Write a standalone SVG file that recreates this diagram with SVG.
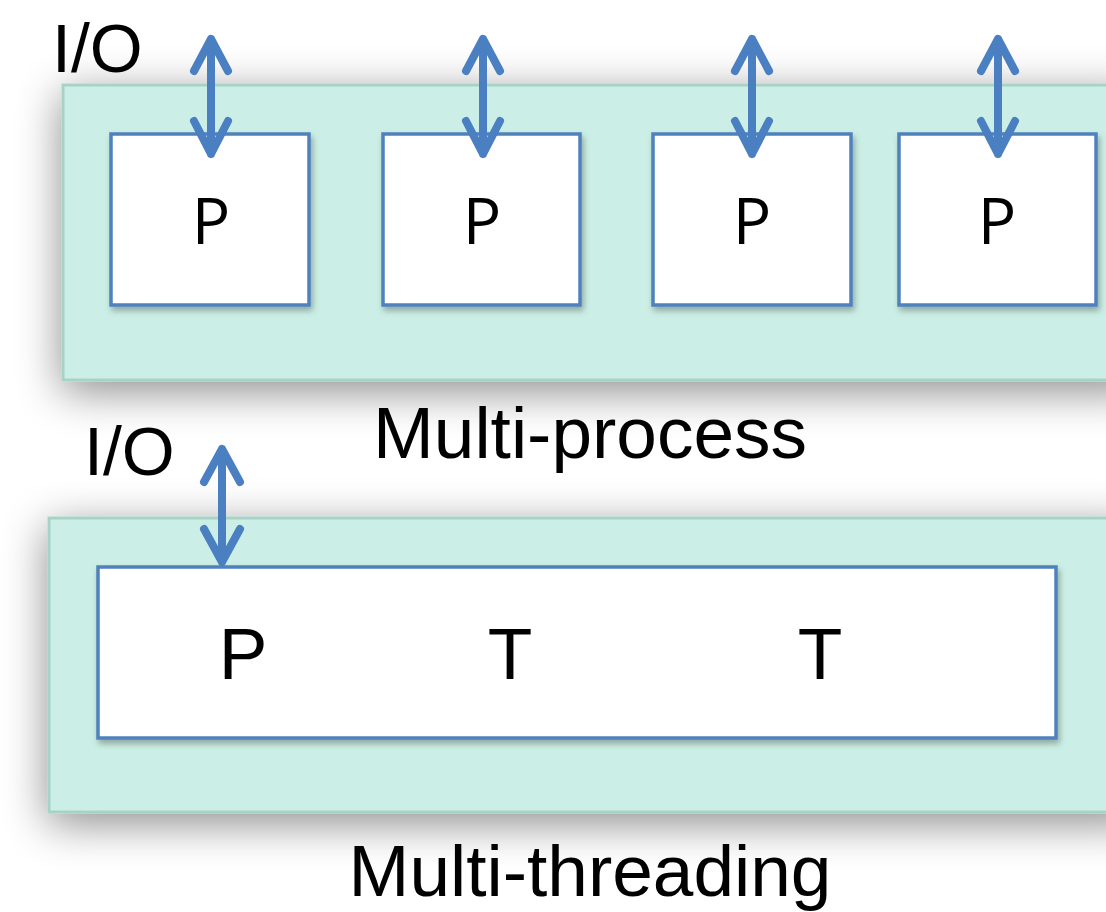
<svg xmlns="http://www.w3.org/2000/svg" width="1106" height="912" viewBox="0 0 1106 912">
  <defs>
    <filter id="panelShadow" x="-20%" y="-50%" width="140%" height="200%">
      <feGaussianBlur in="SourceAlpha" stdDeviation="22"/>
      <feOffset dx="0" dy="10" result="blur"/>
      <feFlood flood-color="#000" flood-opacity="0.45"/>
      <feComposite in2="blur" operator="in"/>
      <feMerge><feMergeNode/><feMergeNode in="SourceGraphic"/></feMerge>
    </filter>
    <filter id="boxShadow" x="-10%" y="-10%" width="130%" height="130%">
      <feGaussianBlur in="SourceAlpha" stdDeviation="3"/>
      <feOffset dx="2" dy="4" result="blur"/>
      <feFlood flood-color="#000" flood-opacity="0.3"/>
      <feComposite in2="blur" operator="in"/>
      <feMerge><feMergeNode/><feMergeNode in="SourceGraphic"/></feMerge>
    </filter>
    <style>
      .panel { fill: #cbefe6; stroke: #a6d3c6; stroke-width: 3; }
      .box { fill: #ffffff; stroke: #4f81bd; stroke-width: 3.5; }
      .arrow { fill: none; stroke: #4a7fc1; stroke-width: 8; stroke-linecap: round; stroke-linejoin: round; }
      .lbl { font-family: "Liberation Sans", Arial, sans-serif; fill: #000; }
      .io { font-size: 68px; }
      .cap { font-size: 73px; text-anchor: middle; }
      .pbox { font-family: "Open Sans", "Liberation Sans", sans-serif; font-size: 64px; text-anchor: middle; fill: #000; }
      .pt { font-size: 73px; text-anchor: middle; }
    </style>
  </defs>

  <rect width="1106" height="912" fill="#ffffff"/>

  <!-- Multi-process panel -->
  <g id="multi-process">
    <rect class="panel" x="63" y="85" width="1080" height="295" filter="url(#panelShadow)"/>
    <g id="proc1"><rect class="box" x="111" y="134" width="198" height="171" filter="url(#boxShadow)"/><text class="pbox" x="211" y="244">P</text></g>
    <g id="proc2"><rect class="box" x="383" y="134" width="197" height="171" filter="url(#boxShadow)"/><text class="pbox" x="482" y="244">P</text></g>
    <g id="proc3"><rect class="box" x="653" y="134" width="198" height="171" filter="url(#boxShadow)"/><text class="pbox" x="752" y="244">P</text></g>
    <g id="proc4"><rect class="box" x="899" y="134" width="197" height="171" filter="url(#boxShadow)"/><text class="pbox" x="997" y="244">P</text></g>
    <text class="lbl io" x="52" y="72">I/O</text>
    <text class="lbl cap" x="590" y="458">Multi-process</text>
  </g>

  <!-- Multi-threading panel -->
  <g id="multi-threading">
    <rect class="panel" x="49" y="518" width="1090" height="294" filter="url(#panelShadow)"/>
    <g id="thread-proc">
      <rect class="box" x="98" y="567" width="958" height="171" filter="url(#boxShadow)"/>
      <text class="lbl pt" x="243" y="679">P</text>
      <text class="lbl pt" x="510" y="679">T</text>
      <text class="lbl pt" x="820" y="679">T</text>
    </g>
    <text class="lbl io" x="84" y="475">I/O</text>
    <text class="lbl cap" x="590" y="896">Multi-threading</text>
  </g>

  <!-- I/O connectors (double-headed) -->
  <g id="connectors">
    <path class="arrow" d="M211 39 V154 M194 71 L211 39 L228 71 M194 121 L211 154 L228 121"/>
    <path class="arrow" d="M483 39 V154 M466 71 L483 39 L500 71 M466 121 L483 154 L500 121"/>
    <path class="arrow" d="M752 39 V154 M735 71 L752 39 L769 71 M735 121 L752 154 L769 121"/>
    <path class="arrow" d="M998 39 V154 M981 71 L998 39 L1015 71 M981 121 L998 154 L1015 121"/>
    <path class="arrow" d="M222 449 V562 M204 482 L222 449 L240 482 M204 529 L222 562 L240 529"/>
  </g>
</svg>
